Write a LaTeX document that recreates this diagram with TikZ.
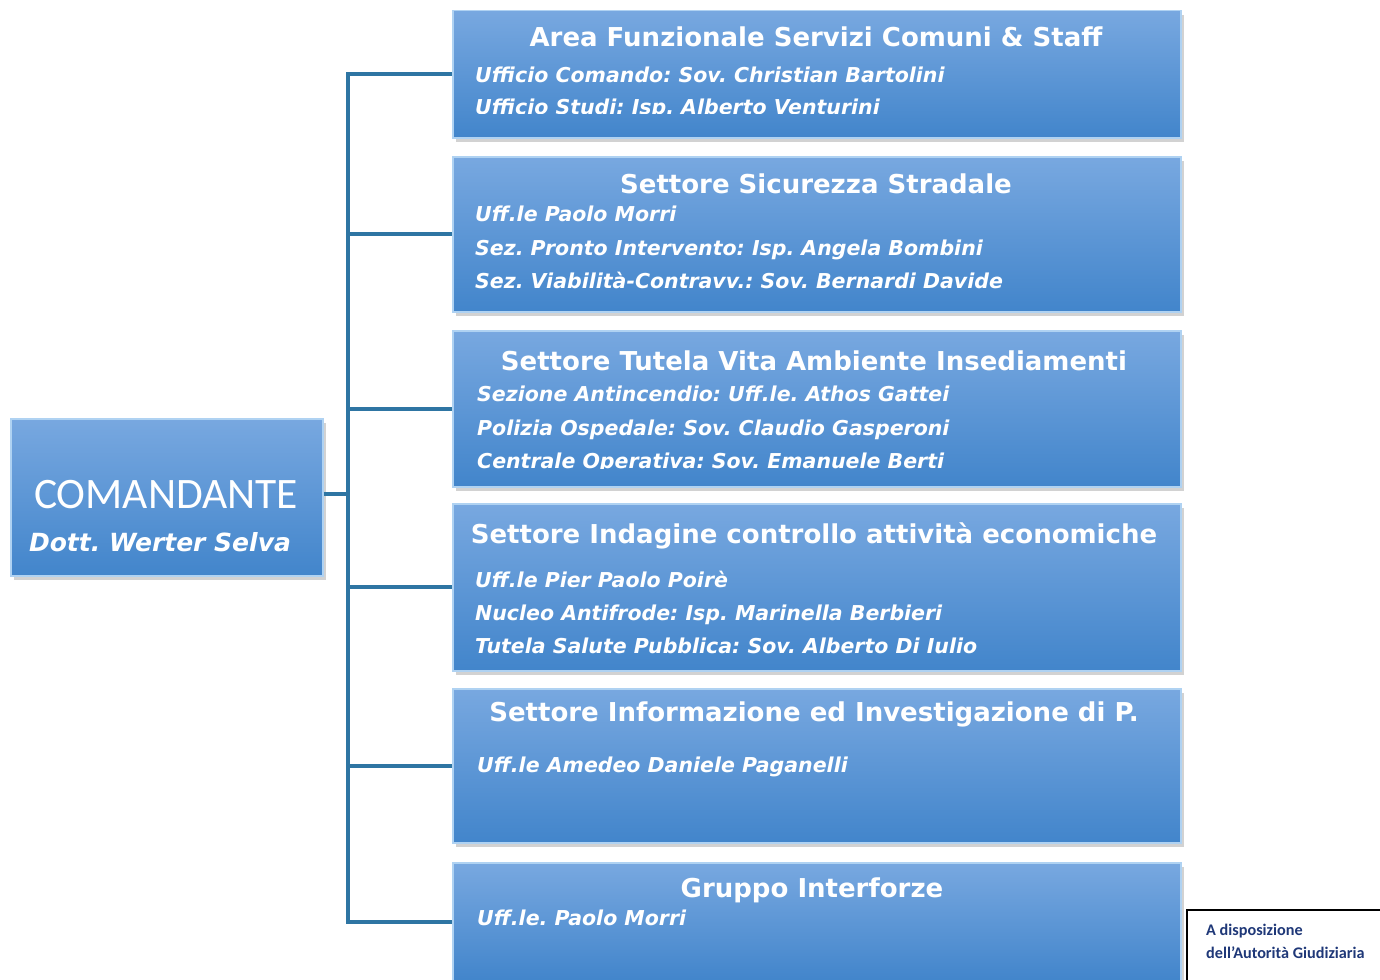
\documentclass[tikz,border=0pt]{standalone}
\usepackage{fontspec}
\setmainfont{DejaVu Sans}
\newfontfamily\calfont{Carlito}
\frenchspacing
\usetikzlibrary{positioning,shadows}
\definecolor{linkblue}{RGB}{46,117,163}
\definecolor{boxtop}{RGB}{120,168,224}
\definecolor{boxbot}{RGB}{66,133,203}
\definecolor{bevel}{RGB}{175,210,242}
\definecolor{notenavy}{RGB}{31,56,120}
\begin{document}
\begin{tikzpicture}[x=1pt, y=-1pt,
  sector/.style={draw=bevel, line width=1.5pt, top color=boxtop, bottom color=boxbot,
    anchor=north west, inner sep=0pt,
    drop shadow={shadow xshift=3pt, shadow yshift=-4pt, opacity=0.35}},
  head/.style={anchor=base, inner sep=0pt, text=white,
    font=\fontsize{26}{30}\selectfont\bfseries},
  item/.style={anchor=base west, inner sep=0pt, text=white,
    font=\fontsize{20.5}{24}\selectfont\bfseries\itshape},
  link/.style={draw=linkblue, line width=4pt},
  note/.style={draw=black, line width=1.5pt, fill=white, anchor=north west, inner sep=0pt},
  notetext/.style={anchor=base west, inner sep=0pt, text=notenavy,
    font=\fontsize{16.2}{19}\selectfont\calfont\bfseries}]
\useasboundingbox (0,0) rectangle (1380,979);
\fill[white] (0,0) rectangle (1380,979);
\node[sector, minimum width=312pt, minimum height=157pt] (cmd) at (10,418) {};
\node[anchor=base, inner sep=0pt, text=white, font=\fontsize{43.5}{48}\selectfont\calfont] (cmdt) at (166,508) {COMANDANTE};
\node[anchor=base, inner sep=0pt, text=white, font=\fontsize{25}{29}\selectfont\bfseries\itshape] (cmdn) at (160,551) {Dott. Werter Selva};
\node[sector, minimum width=728pt, minimum height=127pt] (b1) at (452,10) {};
\node[sector, minimum width=728pt, minimum height=155pt] (b2) at (452,156) {};
\node[sector, minimum width=728pt, minimum height=156pt] (b3) at (452,330) {};
\node[sector, minimum width=728pt, minimum height=167pt] (b4) at (452,503) {};
\node[sector, minimum width=728pt, minimum height=154pt] (b5) at (452,688) {};
\node[sector, minimum width=728pt, minimum height=118pt] (b6) at (452,862) {};
\coordinate (spine) at (348,494);
\draw[link] (cmd.east |- spine) -- (spine);
\foreach \b in {b1,b2,b3,b4,b5,b6}
  \draw[link] (spine) |- (\b.west);
\node[head] (h1) at (816,47) {Area Funzionale Servizi Comuni \& Staff};
\node[item] (i11) at (475,83) {Ufficio Comando: Sov. Christian Bartolini};
\begin{scope}
  \clip (452,90) rectangle (1180,114);
  \node[item] (i12) at (475,115) {Ufficio Studi: Isp. Alberto Venturini};
\end{scope}
\node[head] (h2) at (816,193) {Settore Sicurezza Stradale};
\node[item] (i21) at (475,221) {Uff.le Paolo Morri};
\node[item] (i22) at (475,255) {Sez. Pronto Intervento: Isp. Angela Bombini};
\node[item] (i23) at (475,288) {Sez. Viabilità-Contravv.: Sov. Bernardi Davide};
\node[head] (h3) at (814,370) {Settore Tutela Vita Ambiente Insediamenti};
\node[item] (i31) at (477,401) {Sezione Antincendio: Uff.le. Athos Gattei};
\node[item] (i32) at (477,435) {Polizia Ospedale: Sov. Claudio Gasperoni};
\begin{scope}
  \clip (452,440) rectangle (1180,468);
  \node[item] (i33) at (477,468) {Centrale Operativa: Sov. Emanuele Berti};
\end{scope}
\node[head] (h4) at (814,543) {Settore Indagine controllo attività economiche};
\node[item] (i41) at (475,587) {Uff.le Pier Paolo Poirè};
\node[item] (i42) at (475,620) {Nucleo Antifrode: Isp. Marinella Berbieri};
\begin{scope}
  \clip (452,628) rectangle (1180,654);
  \node[item] (i43) at (475,653) {Tutela Salute Pubblica: Sov. Alberto Di Iulio};
\end{scope}
\node[head] (h5) at (814,721) {Settore Informazione ed Investigazione di P.};
\node[item] (i51) at (477,772) {Uff.le Amedeo Daniele Paganelli};
\node[head] (h6) at (812,897) {Gruppo Interforze};
\node[item] (i61) at (477,925) {Uff.le. Paolo Morri};
\node[note, minimum width=220pt, minimum height=80pt] (disp) at (1186,909) {};
\node[notetext] (disp1) at (1206,935) {A disposizione};
\node[notetext] (disp2) at (1206,958) {dell’Autorità Giudiziaria};
\end{tikzpicture}
\end{document}
